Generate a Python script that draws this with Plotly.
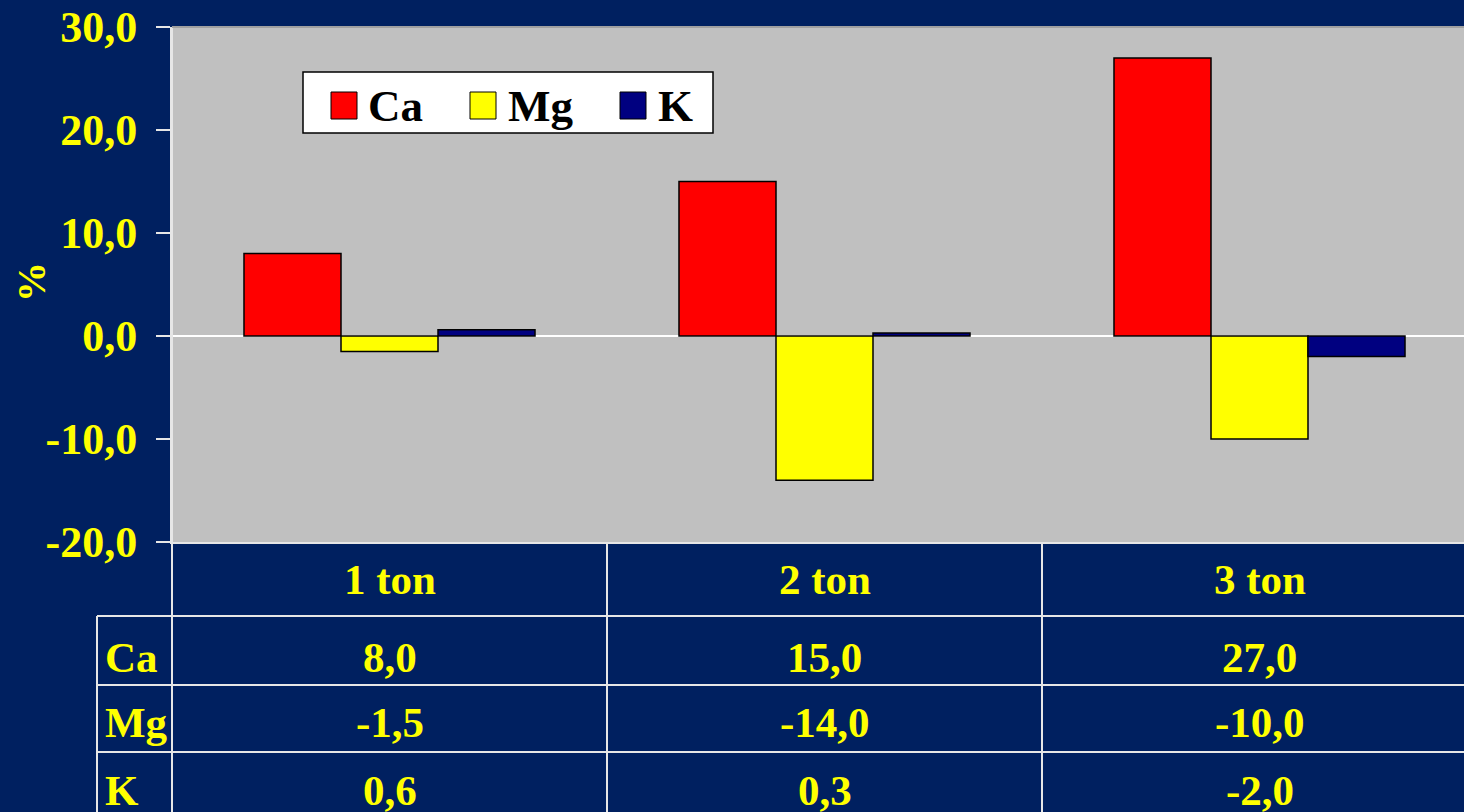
import plotly.graph_objects as go

# ---------------- data ----------------
categories = ["1 ton", "2 ton", "3 ton"]
series_names = ["Ca", "Mg", "K"]
ca_values = [8.0, 15.0, 27.0]
mg_values = [-1.5, -14.0, -10.0]
k_values = [0.6, 0.3, -2.0]
y_tickvals = [-20, -10, 0, 10, 20, 30]
y_ticktext = ["-20,0", "-10,0", "0,0", "10,0", "20,0", "30,0"]
y_title = "%"

# ---------------- style ----------------
W, H = 1464, 812
ML, MT, MB = 172, 27, 270
PW, PH = W - ML, H - MT - MB
BG = "#002060"
PLOT_BG = "#C0C0C0"
YELLOW = "#FFFF00"
LINE = "#E6E6E6"
FONT = "Times New Roman, Liberation Serif, serif"
colors = ["#FF0000", "#FFFF00", "#000080"]
series_values = [ca_values, mg_values, k_values]
TXT = 43


def px_x(px):
    return (px - ML) / PW


def px_y(py):
    return (H - MB - py) / PH


def fmt(v):
    return f"{v:.1f}".replace(".", ",")


fig = go.Figure()
for name, vals, col in zip(series_names, series_values, colors):
    fig.add_trace(go.Bar(
        x=categories, y=vals, name=name,
        marker=dict(color=col, line=dict(color="#000000", width=1.5)),
        showlegend=False,
    ))

shapes = []
annotations = []

# ---- table below plot ----
row_centers = [657, 722, 790]
header_center = 579
for c in categories:
    annotations.append(dict(x=c, xref="x", y=px_y(header_center), yref="paper",
                            text=c, showarrow=False, xanchor="center", yanchor="middle",
                            font=dict(family=FONT, size=TXT, color=YELLOW, weight="bold")))
for name, vals, yc in zip(series_names, series_values, row_centers):
    annotations.append(dict(x=px_x(103), xref="paper", y=px_y(yc), yref="paper",
                            text=name, showarrow=False, xanchor="left", yanchor="middle",
                            font=dict(family=FONT, size=TXT, color=YELLOW, weight="bold")))
    for c, v in zip(categories, vals):
        annotations.append(dict(x=c, xref="x", y=px_y(yc), yref="paper",
                                text=fmt(v), showarrow=False, xanchor="center", yanchor="middle",
                                font=dict(family=FONT, size=TXT, color=YELLOW, weight="bold")))

# y-axis title
annotations.append(dict(x=px_x(31), xref="paper", y=px_y(282), yref="paper",
                        text=y_title, textangle=-90, showarrow=False,
                        xanchor="center", yanchor="middle",
                        font=dict(family=FONT, size=40, color=YELLOW, weight="bold")))

# table grid lines
for yline in [616, 685, 752]:
    shapes.append(dict(type="line", xref="paper", yref="paper",
                       x0=px_x(97), x1=px_x(W + 20), y0=px_y(yline), y1=px_y(yline),
                       line=dict(color=LINE, width=2)))
shapes.append(dict(type="line", xref="paper", yref="paper",
                   x0=px_x(97), x1=px_x(97), y0=px_y(616), y1=px_y(H + 20),
                   line=dict(color=LINE, width=2)))
shapes.append(dict(type="line", xref="paper", yref="paper",
                   x0=0, x1=0, y0=1, y1=px_y(H + 20),
                   line=dict(color=LINE, width=2)))
for xb in [0.5, 1.5]:
    shapes.append(dict(type="line", xref="x", yref="paper",
                       x0=xb, x1=xb, y0=0, y1=px_y(H + 20),
                       line=dict(color=LINE, width=2)))
# top border of plot area
shapes.append(dict(type="line", xref="paper", yref="paper",
                   x0=0, x1=1, y0=1, y1=1, line=dict(color="#A0A0A0", width=2)))

# ---- legend (drawn) ----
shapes.append(dict(type="rect", xref="paper", yref="paper",
                   x0=px_x(303), x1=px_x(713), y0=px_y(133), y1=px_y(72),
                   fillcolor="#FFFFFF", line=dict(color="#000000", width=1.5), layer="above"))
sq_x = [331, 470, 620]
txt_x = [366, 506, 656]
for name, col, sx, tx in zip(series_names, colors, sq_x, txt_x):
    shapes.append(dict(type="rect", xref="paper", yref="paper",
                       x0=px_x(sx), x1=px_x(sx + 26), y0=px_y(119), y1=px_y(92),
                       fillcolor=col, line=dict(color="#000000", width=1), layer="above"))
    annotations.append(dict(x=px_x(tx), xref="paper", y=px_y(106), yref="paper",
                            text=name, showarrow=False, xanchor="left", yanchor="middle",
                            font=dict(family=FONT, size=45, color="#000000", weight="bold")))

fig.update_layout(
    width=W, height=H,
    margin=dict(l=ML, r=0, t=MT, b=MB, pad=0),
    paper_bgcolor=BG, plot_bgcolor=PLOT_BG,
    barmode="group", bargap=0.331, bargroupgap=0,
    showlegend=False,
    shapes=shapes, annotations=annotations,
    xaxis=dict(type="category", range=[-0.5, -0.5 + PW / 435.0],
               showticklabels=False, ticks="", showgrid=False, zeroline=False,
               showline=True, linecolor=LINE, linewidth=2, fixedrange=True),
    yaxis=dict(range=[-20, 30], tickvals=y_tickvals, ticktext=y_ticktext,
               ticks="outside", ticklen=14, tickwidth=2, tickcolor=LINE,
               ticklabelstandoff=10,
               showgrid=False, zeroline=True, zerolinecolor="#FFFFFF", zerolinewidth=2,
               showline=True, linecolor=LINE, linewidth=2,
               tickfont=dict(family=FONT, size=44, color=YELLOW, weight="bold")),
)

fig.write_html("out.html",
               config={"displayModeBar": False},
               post_script="document.body.style.margin='0';document.body.style.padding='0';"
                           "document.body.style.overflow='hidden';")
